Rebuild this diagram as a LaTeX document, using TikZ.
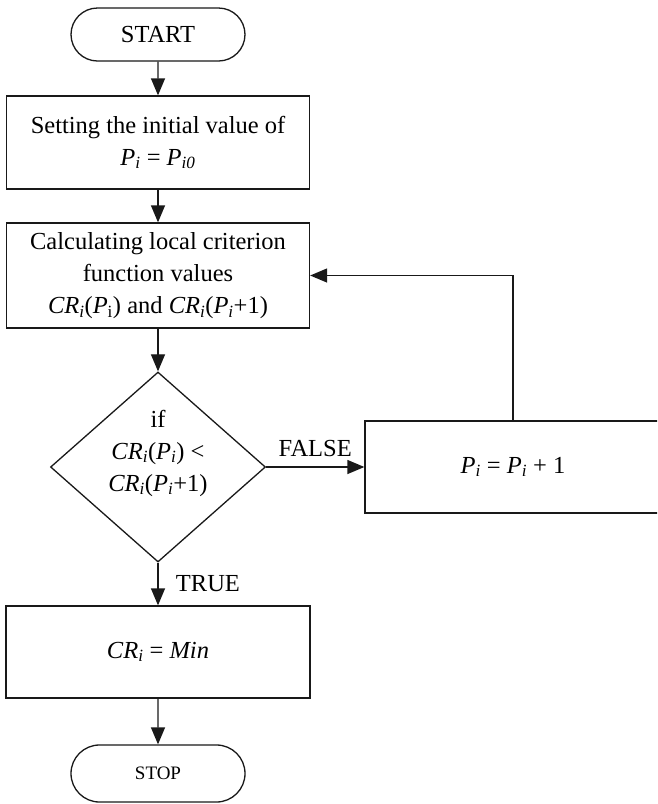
\documentclass[tikz,border=0pt]{standalone}
\usepackage{fontspec}
\setmainfont{Liberation Serif}
\usetikzlibrary{arrows.meta,shapes.geometric,shapes.misc}
% italic variable with italic subscript
\newcommand\varsub[2]{\textit{#1}\textsubscript{\textit{#2}}}
\tikzset{
  every node/.style={font=\fontsize{24.5}{32}\selectfont, text=black},
  line/.style={draw=black!90, line width=1.3pt},
  arr/.style={line, -{Triangle[length=17pt,width=14pt]}},
  procbox/.style={line, rectangle, inner sep=0pt, align=center},
  termbox/.style={line, rounded rectangle, inner sep=0pt},
  decbox/.style={line, diamond, inner sep=0pt, aspect=1.13},
}
\begin{document}
\begin{tikzpicture}[x=1pt, y=-1pt]
  \clip (0,0) rectangle (657,804);
  \fill[white] (0,0) rectangle (657,804);

  \node[termbox, minimum width=174pt, minimum height=53pt] (start) at (158,34.5) {START};
  \node[procbox, minimum width=303pt, minimum height=93pt] (init) at (158,142.5)
    {Setting the initial value of\\ \varsub{P}{i} = \varsub{P}{i0}};
  \node[procbox, minimum width=303pt, minimum height=105pt] (calc) at (158,275.5)
    {Calculating local criterion\\ function values\\
     \varsub{CR}{i}(\textit{P}\textsubscript{i}) and \varsub{CR}{i}(\varsub{P}{i}+1)};
  \node[decbox, minimum width=215pt, minimum height=190pt] (test) at (158,467) {};
  \node[align=center] (testtext) at (158,453)
    {if\\ \varsub{CR}{i}(\varsub{P}{i}) <\\ \varsub{CR}{i}(\varsub{P}{i}+1)};
  \node[procbox, minimum width=296pt, minimum height=92pt] (incr) at (513,467)
    {\varsub{P}{i} = \varsub{P}{i} + 1};
  \node[procbox, minimum width=304pt, minimum height=92pt] (minval) at (158,652)
    {\varsub{CR}{i} = \textit{Min}};
  \node[termbox, minimum width=174pt, minimum height=57pt,
        font=\fontsize{19}{24}\selectfont] (stop) at (158,773.5) {STOP};

  \draw[arr] (start) -- (init);
  \draw[arr] (init) -- (calc);
  \draw[arr] (calc) -- (test);
  \draw[arr] (test.east) -- (incr.west)
    node[midway, above=6pt] (falselbl) {FALSE};
  \draw[arr] (incr.north) |- (calc.east);
  \draw[arr] (test.south) -- (minval.north)
    node[midway, right=14pt] (truelbl) {TRUE};
  \draw[arr] (minval) -- (stop);
\end{tikzpicture}
\end{document}
